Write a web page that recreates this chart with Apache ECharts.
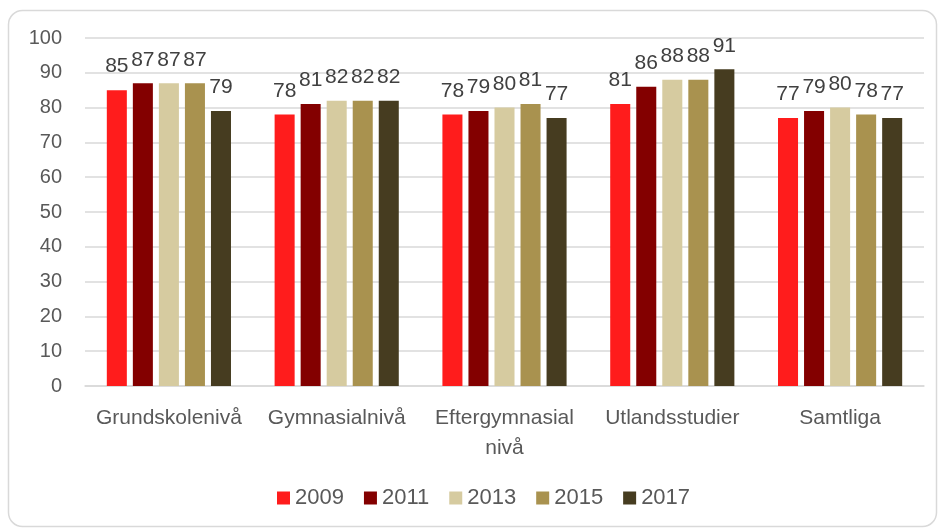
<!DOCTYPE html>
<html>
<head>
<meta charset="utf-8">
<script src="https://cdn.jsdelivr.net/npm/echarts@6/dist/echarts.min.js"></script>
<style>
  html, body { margin: 0; padding: 0; background: #fff; }
  #main { width: 941px; height: 530px; }
</style>
</head>
<body>
<div id="main"></div>
<script>
var categories = ['Grundskolenivå', 'Gymnasialnivå', 'Eftergymnasial\nnivå', 'Utlandsstudier', 'Samtliga'];
var years = ['2009', '2011', '2013', '2015', '2017'];
var v2009 = [85, 78, 78, 81, 77];
var v2011 = [87, 81, 79, 86, 79];
var v2013 = [87, 82, 80, 88, 80];
var v2015 = [87, 82, 81, 88, 78];
var v2017 = [79, 82, 77, 91, 77];
var yTicks = [0, 100, 10];

var colors = ['#ff1c1c', '#830000', '#d6cba0', '#a9924f', '#463c20'];
var font = '"Liberation Sans", Arial, sans-serif';
var values = [v2009, v2011, v2013, v2015, v2017];

var series = [];
for (var i = 0; i < years.length; i++) {
  series.push({
    name: years[i],
    type: 'bar',
    data: values[i],
    barGap: '30%',
    barCategoryGap: '26%',
    itemStyle: { color: colors[i] },
    label: {
      show: true,
      position: 'top',
      distance: 13,
      color: '#404040',
      fontSize: 21,
      fontFamily: font
    }
  });
}

var myChart = echarts.init(document.getElementById('main'));
myChart.setOption({
  animation: false,
  color: colors,
  graphic: [{
    type: 'rect',
    shape: { x: 8.5, y: 10.5, width: 928, height: 516, r: 14 },
    style: { fill: 'none', stroke: '#d9d9d9', lineWidth: 1.5 },
    z: -1
  }],
  grid: { left: 85, right: 17, top: 38, bottom: 144 },
  xAxis: {
    type: 'category',
    data: categories,
    axisTick: { show: false },
    axisLine: { lineStyle: { color: '#d9d9d9', width: 1.5 } },
    axisLabel: {
      interval: 0,
      color: '#595959',
      fontSize: 21,
      fontFamily: font,
      margin: 17,
      lineHeight: 30
    }
  },
  yAxis: {
    type: 'value',
    min: yTicks[0],
    max: yTicks[1],
    interval: yTicks[2],
    axisLine: { show: false },
    axisTick: { show: false },
    splitLine: { lineStyle: { color: '#d9d9d9', width: 1.5 } },
    axisLabel: {
      color: '#595959',
      fontSize: 20,
      fontFamily: font,
      margin: 23
    }
  },
  legend: {
    data: years,
    bottom: 16,
    left: 272,
    icon: 'rect',
    itemWidth: 13,
    itemHeight: 13,
    itemGap: 20,
    textStyle: { color: '#595959', fontSize: 22, fontFamily: font }
  },
  series: series
});
</script>
</body>
</html>
